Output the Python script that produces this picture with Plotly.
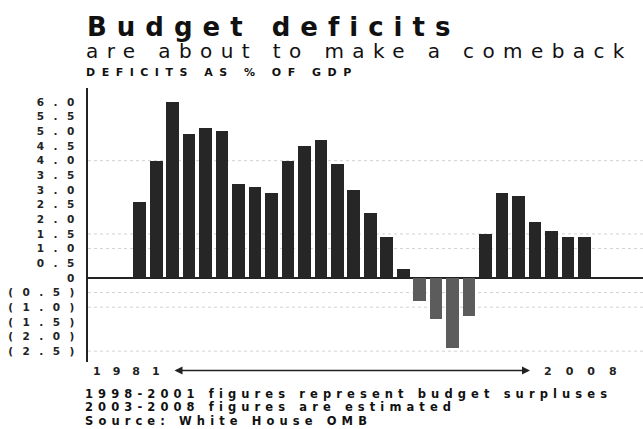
import plotly.graph_objects as go

# ---- data ----
years = list(range(1981, 2009))
deficits = [2.6, 4.0, 6.0, 4.9, 5.1, 5.0, 3.2, 3.1, 2.9, 4.0,
            4.5, 4.7, 3.9, 3.0, 2.2, 1.4, 0.3, -0.8, -1.4, -2.4,
            -1.3, 1.5, 2.9, 2.8, 1.9, 1.6, 1.4, 1.4]
tick_values = [6.0, 5.5, 5.0, 4.5, 4.0, 3.5, 3.0, 2.5, 2.0, 1.5, 1.0, 0.5,
               0, -0.5, -1.0, -1.5, -2.0, -2.5]
tick_labels = ["6.0", "5.5", "5.0", "4.5", "4.0", "3.5", "3.0", "2.5", "2.0",
               "1.5", "1.0", "0.5", "0", "(0.5)", "(1.0)", "(1.5)", "(2.0)", "(2.5)"]
grid_levels = [4.0, 1.5, 1.0, -0.5, -1.0, -2.5]
title_text = "Budget deficits"
subtitle_text = "are about to make a comeback"
unit_text = "DEFICITS AS % OF GDP"
start_label = "1981"
end_label = "2008"
notes = ["1998-2001 figures represent budget surpluses",
         "2003-2008 figures are estimated",
         "Source: White House OMB"]

# ---- layout geometry ----
W, H = 643, 429
L, R, T, B = 88, 0, 88, 67
plot_w = W - L - R
plot_h = H - T - B
FONT = "DejaVu Sans"
INK = "#222222"


def px(x):
    return (x - L) / plot_w


def py(y):
    return (H - B - y) / plot_h


def spaced(text, ls):
    return f"<span style='letter-spacing:{ls}px'>{text}</span>"


colors = ["#5c5c5c" if v < 0 else "#262626" for v in deficits]

fig = go.Figure(go.Bar(
    x=years, y=deficits, width=0.77,
    marker=dict(color=colors, line=dict(width=0)),
    hoverinfo="x+y",
))

shapes = [dict(type="line", xref="paper", x0=0, x1=1, yref="y", y0=g, y1=g,
               line=dict(color="#d2d2d2", width=1, dash="dot"), layer="below")
          for g in grid_levels]

annotations = [
    dict(text=spaced(title_text, 10), x=px(85), y=py(27.5), xref="paper", yref="paper",
         xanchor="left", yanchor="middle", showarrow=False,
         font=dict(family=FONT, size=26, color="#111", weight="bold")),
    dict(text=spaced(subtitle_text, 8.4), x=px(84), y=py(51), xref="paper", yref="paper",
         xanchor="left", yanchor="middle", showarrow=False,
         font=dict(family=FONT, size=20, color="#111")),
    dict(text=spaced(unit_text, 6.5), x=px(84), y=py(72), xref="paper", yref="paper",
         xanchor="left", yanchor="middle", showarrow=False,
         font=dict(family=FONT, size=11, color="#111", weight="bold")),
    dict(text=spaced(start_label, 12), x=px(91), y=py(371.5), xref="paper", yref="paper",
         xanchor="left", yanchor="middle", showarrow=False,
         font=dict(family=FONT, size=11, color=INK, weight="bold")),
    dict(text=spaced(end_label, 14), x=px(542), y=py(371.5), xref="paper", yref="paper",
         xanchor="left", yanchor="middle", showarrow=False,
         font=dict(family=FONT, size=11, color=INK, weight="bold")),
    dict(text="", x=px(530), y=py(370.5), xref="paper", yref="paper",
         ax=-(530 - 173), ay=0, axref="pixel", ayref="pixel",
         showarrow=True, arrowhead=2, startarrowhead=2, arrowside="end+start",
         arrowsize=1, startarrowsize=1, arrowwidth=1.6, arrowcolor=INK),
]
for i, note in enumerate(notes):
    annotations.append(dict(
        text=spaced(note, 5.1), x=px(83), y=py(393.5 + 13.5 * i), xref="paper", yref="paper",
        xanchor="left", yanchor="middle", showarrow=False,
        font=dict(family=FONT, size=11.5, color="#111", weight="bold")))

fig.update_layout(
    width=W, height=H,
    margin=dict(l=L, r=R, t=T, b=B),
    paper_bgcolor="white", plot_bgcolor="white",
    showlegend=False,
    bargap=0,
    shapes=shapes,
    annotations=annotations,
    xaxis=dict(range=[1977.86, 2011.56], showgrid=False, zeroline=False,
               showline=False, showticklabels=False, ticks=""),
    yaxis=dict(range=[-2.87, 6.48], tickvals=tick_values,
               ticktext=[spaced(t, 9.5) for t in tick_labels],
               tickfont=dict(family=FONT, size=10.5, color=INK, weight="bold"),
               showgrid=False, ticks="", showline=True, linecolor=INK, linewidth=2,
               zeroline=True, zerolinecolor=INK, zerolinewidth=2),
)

fig.write_html(
    "out.html",
    config={"displayModeBar": False},
    post_script="document.body.style.margin='0';document.body.style.overflow='hidden';",
)
